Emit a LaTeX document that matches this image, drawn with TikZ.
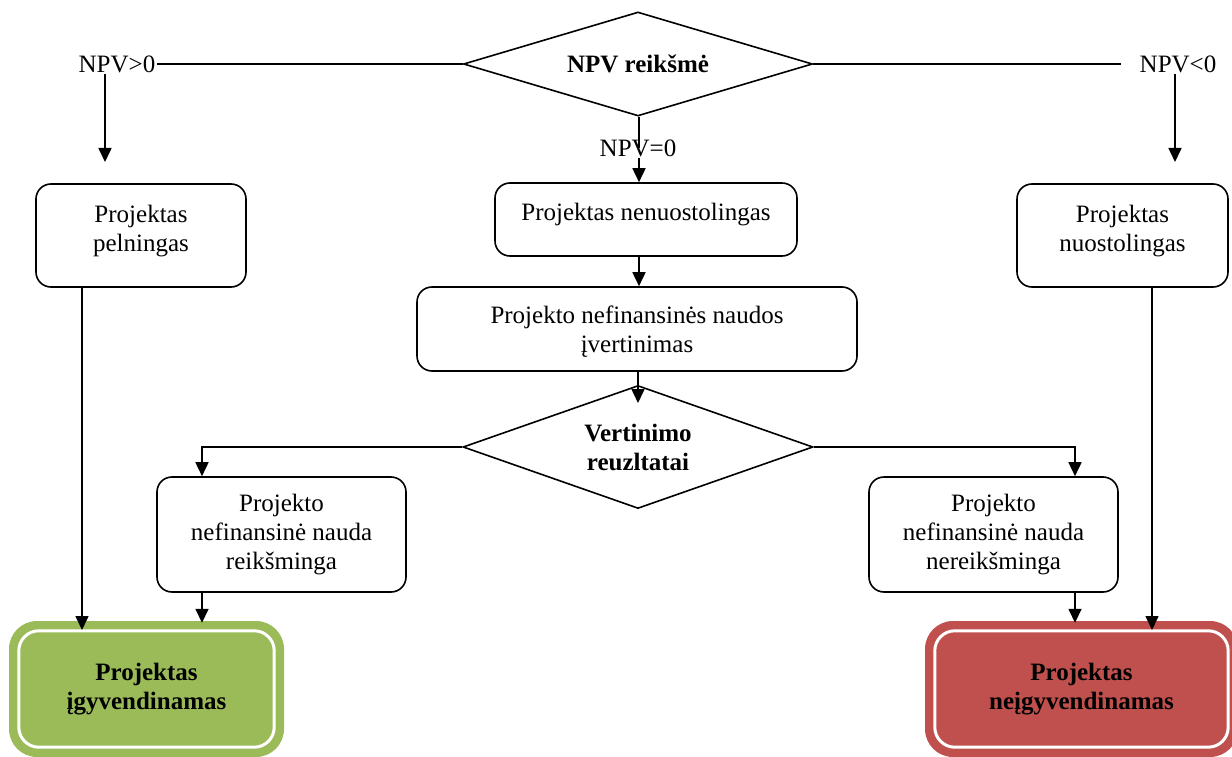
\documentclass[tikz,border=0pt]{standalone}
\usepackage{fontspec}
\setmainfont{Liberation Serif}
\usetikzlibrary{shapes.geometric,arrows.meta,calc}

\definecolor{okgreen}{HTML}{9BBB59}
\definecolor{nored}{HTML}{C0504D}

\begin{document}
\begin{tikzpicture}[x=1pt,y=-1pt,
  every node/.style={font=\fontsize{25}{29}\selectfont, align=center},
  flow/.style={line width=1.6pt},
  arr/.style={flow,-{Triangle[width=13pt,length=14pt]}},
  box/.style={draw,line width=1.6pt,rounded corners=15pt,inner sep=2pt},
  raised/.style={text depth=15pt},
  decision/.style={draw,diamond,line width=1.6pt,inner sep=0pt,
    font=\fontsize{25}{29}\selectfont\bfseries},
  endbox/.style={rounded corners=28pt,inner sep=0pt,
    font=\fontsize{25}{29}\selectfont\bfseries},
  ring/.style={draw=white,line width=3pt,rounded corners=20pt},
  cond/.style={inner sep=1pt}
]
\useasboundingbox (0,0) rectangle (1232,757);

% decisions
\node[decision, minimum width=349pt, minimum height=104pt, shape aspect=3.36]
  (d1) at (638,64) {NPV reikšmė};
\node[decision, minimum width=350pt, minimum height=123pt, shape aspect=2.85]
  (d2) at (638,447) {Vertinimo\\reuzltatai};

% branch labels
\node[cond] (pos)  at (117,64)  {NPV>0};
\node[cond] (neg)  at (1178,64) {NPV<0};
\node[cond] (zero) at (638,148) {NPV=0};

% process boxes
\node[box, raised, minimum width=210pt, minimum height=103pt] (b1) at (141,235.5)
  {Projektas\\pelningas};
\node[box, raised, minimum width=302pt, minimum height=73pt] (b2) at (646,219.5)
  {Projektas nenuostolingas};
\node[box, raised, minimum width=211pt, minimum height=103pt] (b3) at (1122.5,235.5)
  {Projektas\\nuostolingas};
\node[box, text depth=0pt, minimum width=440pt, minimum height=84pt] (b4) at (637,329)
  {Projekto nefinansinės naudos\\įvertinimas};
\node[box, minimum width=249pt, minimum height=115pt] (b5) at (281.5,534.5)
  {Projekto\\nefinansinė nauda\\reikšminga};
\node[box, minimum width=249pt, minimum height=115pt] (b6) at (993.5,534.5)
  {Projekto\\nefinansinė nauda\\nereikšminga};

% outcomes: filled box with a thin white inner ring
\node[endbox, fill=okgreen, minimum width=275pt, minimum height=136pt]
  (g) at (146.5,689) {Projektas\\įgyvendinamas};
\draw[ring] ([shift={(10,-10)}]g.south west) rectangle ([shift={(-10,10)}]g.north east);
\node[endbox, fill=nored, minimum width=313pt, minimum height=136pt]
  (r) at (1081.5,689) {Projektas\\neįgyvendinamas};
\draw[ring] ([shift={(10,-10)}]r.south west) rectangle ([shift={(-10,10)}]r.north east);

% connector bends and ends
\coordinate (lx) at (105,162);
\coordinate (rx) at (1175,162);
\coordinate (mid) at (639,0);
\coordinate (d2in) at (638,403);
\coordinate (lk) at (202,447);
\coordinate (rk) at (1075,447);
\coordinate (lp) at (82,630);
\coordinate (rp) at (1152,630);

% top split
\draw[flow] (d1.west) -- (pos.east);
\draw[flow, shorten >=18pt] (d1.east) -- (neg.west);
\draw[arr] (pos.south -| lx) -- (lx);
\draw[arr] (neg.south -| rx) -- (rx);
\draw[flow] (d1.south -| mid) -- (zero.center -| mid);
\draw[arr] (zero.south -| mid) -- (b2.north -| mid);

% middle chain
\draw[arr] (b2.south -| mid) -- (b4.north -| mid);
\draw[arr] (b4.south -| d2in) -- (d2in);
\draw[arr] (d2.west) -- (lk) -- (b5.north -| lk);
\draw[arr] (d2.east) -- (rk) -- (b6.north -| rk);
\draw[arr] (b5.south -| lk) -- ([yshift=-2pt]g.north -| lk);
\draw[arr] (b6.south -| rk) -- ([yshift=-2pt]r.north -| rk);

% direct outcome lines
\draw[arr] (b1.south -| lp) -- (lp);
\draw[arr] (b3.south -| rp) -- (rp);
\end{tikzpicture}
\end{document}
